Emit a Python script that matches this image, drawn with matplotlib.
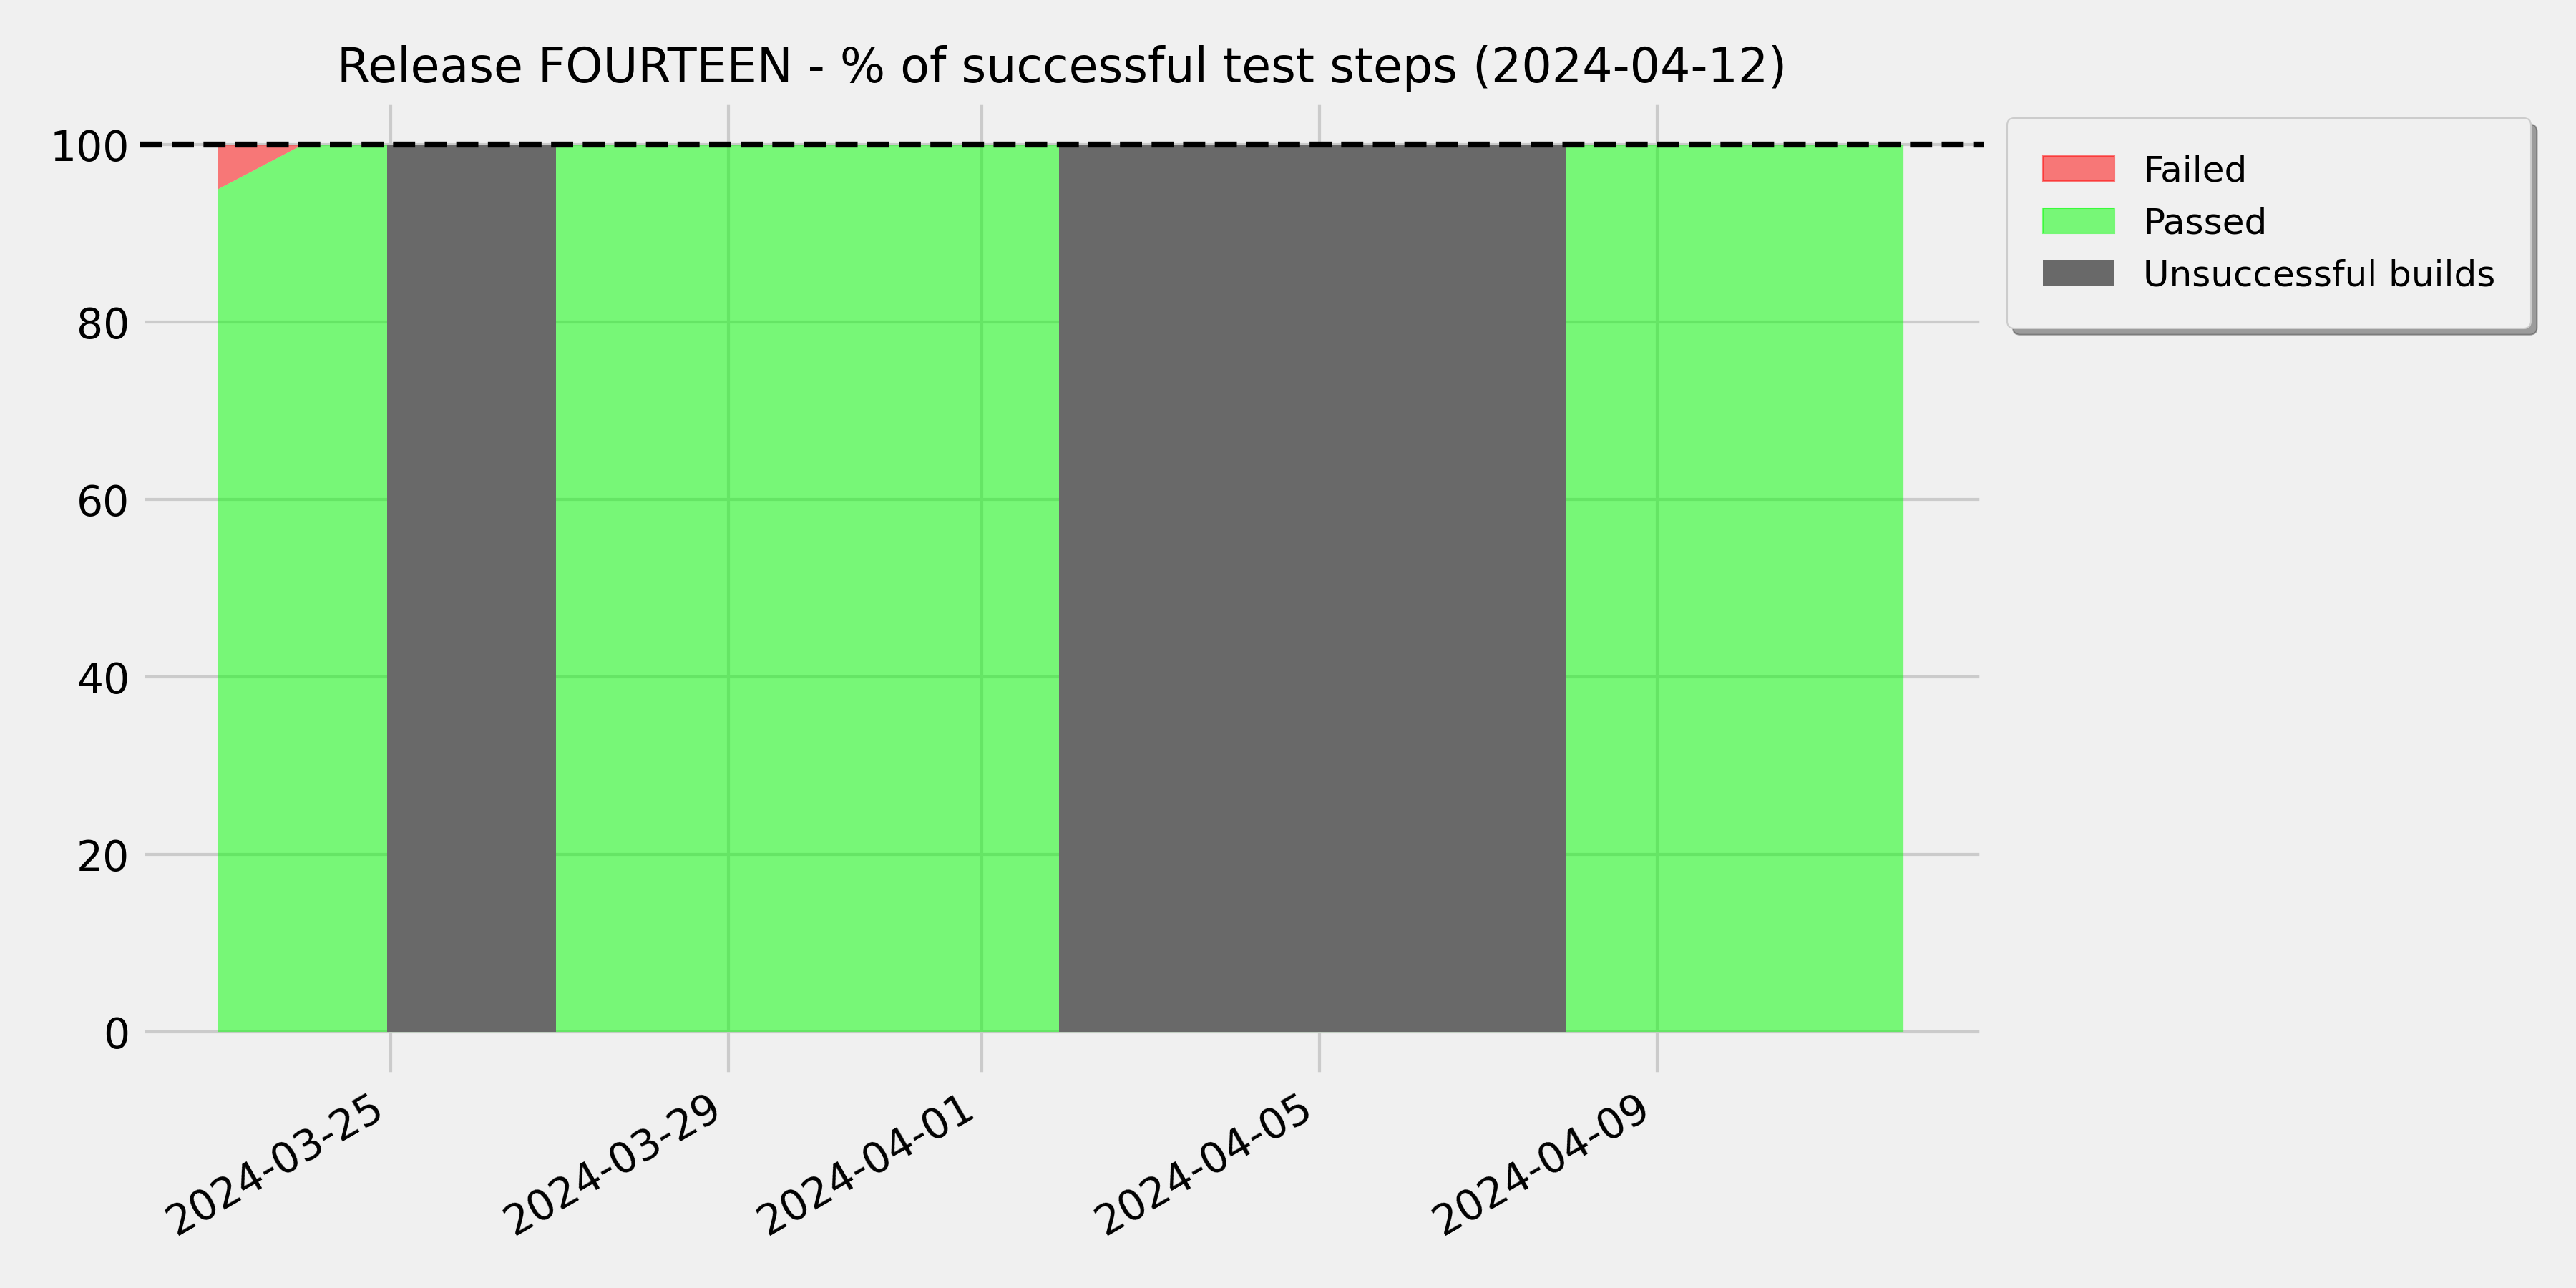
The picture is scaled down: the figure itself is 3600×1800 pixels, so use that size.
import numpy as np
import pandas as pd
import matplotlib
matplotlib.use("Agg")
import matplotlib.pyplot as plt
from matplotlib.patches import Patch

plt.style.use("fivethirtyeight")

# ── Data ──────────────────────────────────────────────────────
# days are local midnights (Europe), drawn in UTC
TZ = "Europe/Berlin"
dates = pd.date_range("2024-03-23", "2024-04-12", freq="D", tz=TZ).tz_convert(None)
failed = [5, 0, 0, 0, 0, 0, 0, 0, 0, 0, 0,
          0, 0, 0, 0, 0, 0, 0, 0, 0, 0]
passed = [95, 100, 100, 100, 100, 100, 100, 100, 100, 100, 100,
          100, 100, 100, 100, 100, 100, 100, 100, 100, 100]
unsuccessful = pd.to_datetime(["2024-03-25", "2024-03-26",
                               "2024-04-02", "2024-04-03", "2024-04-04",
                               "2024-04-05", "2024-04-06", "2024-04-07"]
                              ).tz_localize(TZ).tz_convert(None)
release = "FOURTEEN"
report_date = "2024-04-12"

fig, ax = plt.subplots(figsize=(12, 6), dpi=300)
fig.patch.set_facecolor("#f0f0f0")
ax.set_facecolor("#f0f0f0")

ax.stackplot(dates, passed, failed, colors=["lime", "red"], alpha=0.5)
ax.bar(unsuccessful, [100] * len(unsuccessful), width=1, align="edge",
       color="dimgray", linewidth=0, zorder=3)
ax.axhline(100, color="black", linestyle="--", linewidth=2, zorder=4)

ax.set_ylim(-5, 105)
ax.set_xlim(pd.Timestamp("2024-03-22 00:50"), pd.Timestamp("2024-04-12 20:45"))
ax.set_title(f"Release {release} - % of successful test steps ({report_date})",
             fontsize=16)
ax.tick_params(labelsize=14)
for lbl in ax.get_xticklabels():
    lbl.set_rotation(30)
    lbl.set_ha("right")

handles = [Patch(facecolor="red", edgecolor="red", alpha=0.5, label="Failed"),
           Patch(facecolor="lime", edgecolor="lime", alpha=0.5, label="Passed"),
           Patch(facecolor="dimgray", label="Unsuccessful builds")]
leg = ax.legend(handles=handles, loc="upper left", bbox_to_anchor=(1.003, 1.0),
                fontsize=12, shadow=True, fancybox=True,
                facecolor="#f0f0f0", borderpad=1.0)

plt.subplots_adjust(left=0.0544, right=0.770, top=0.922, bottom=0.1644)
plt.savefig("out.png", facecolor="#f0f0f0")
